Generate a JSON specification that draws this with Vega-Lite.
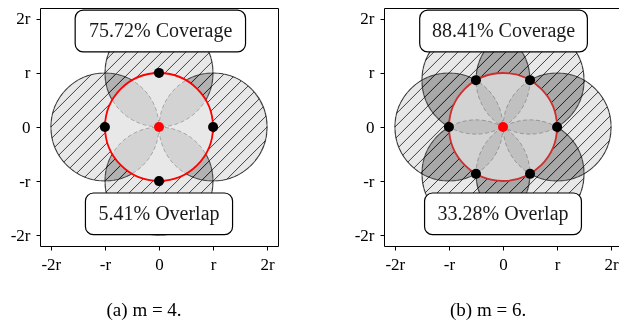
{
  "$schema": "https://vega.github.io/schema/vega-lite/v6.json",
  "background": "white",
  "padding": {"left": 9, "top": 7, "right": 0, "bottom": 0},
  "spacing": 74,
  "config": {
    "view": {"stroke": "black", "strokeWidth": 1},
    "axis": {"grid": false, "domain": false, "labelFont": "Liberation Serif", "labelFontSize": 17, "labelColor": "black", "tickColor": "black", "tickSize": 4, "tickWidth": 1, "labelPadding": 6, "labelFlush": false, "labelOverlap": false, "labelBound": false},
    "title": {"font": "Liberation Serif", "fontSize": 19, "fontWeight": "normal", "color": "black"}
  },
  "datasets": {
    "c4": [{"k": 0, "x": 1, "y": 0}, {"k": 1, "x": 0, "y": 1}, {"k": 2, "x": -1, "y": 0}, {"k": 3, "x": 0, "y": -1}],
    "c6": [{"k": 0, "x": 1, "y": 0}, {"k": 1, "x": 0.5, "y": 0.866}, {"k": 2, "x": -0.5, "y": 0.866}, {"k": 3, "x": -1, "y": 0}, {"k": 4, "x": -0.5, "y": -0.866}, {"k": 5, "x": 0.5, "y": -0.866}],
    "origin": [{"x": 0, "y": 0}],
    "box4": [{"x": -1.55, "x2": 1.6, "y": 1.39, "y2": 2.16}, {"x": -1.36, "x2": 1.36, "y": -1.99, "y2": -1.22}],
    "lab4": [{"label": "75.72% Coverage", "x": 0.03, "y": 1.78}, {"label": "5.41% Overlap", "x": 0, "y": -1.6}],
    "box6": [{"x": -1.54, "x2": 1.56, "y": 1.39, "y2": 2.16}, {"x": -1.45, "x2": 1.45, "y": -1.99, "y2": -1.22}],
    "lab6": [{"label": "88.41% Coverage", "x": 0.01, "y": 1.78}, {"label": "33.28% Overlap", "x": 0, "y": -1.6}]
  },
  "hconcat": [
    {
      "width": 238, "height": 238,
      "title": {"text": "(a) m = 4.", "orient": "bottom", "anchor": "middle", "frame": "bounds", "offset": 29},
      "encoding": {
        "x": {"field": "x", "type": "quantitative", "title": null, "scale": {"domain": [-2.2, 2.2], "nice": false, "zero": false}, "axis": {"values": [-2, -1, 0, 1, 2], "labelExpr": "datum.value == 0 ? '0' : datum.value == 1 ? 'r' : datum.value == -1 ? '-r' : datum.value == 2 ? '2r' : '-2r'"}},
        "y": {"field": "y", "type": "quantitative", "title": null, "scale": {"domain": [-2.2, 2.2], "nice": false, "zero": false}, "axis": {"values": [-2, -1, 0, 1, 2], "labelExpr": "datum.value == 0 ? '0' : datum.value == 1 ? 'r' : datum.value == -1 ? '-r' : datum.value == 2 ? '2r' : '-2r'"}}
      },
      "layer": [
        {"data": {"name": "c4"}, "mark": {"type": "point", "shape": "circle", "size": 11664, "filled": true, "color": "black", "opacity": 1, "strokeWidth": 0}},
        {"data": {"name": "c4"}, "mark": {"type": "point", "shape": "circle", "size": 11664, "filled": true, "color": "white", "opacity": 1, "strokeWidth": 0, "blend": "difference"}},
        {"data": {"name": "c4"}, "mark": {"type": "point", "shape": "circle", "size": 11664, "filled": true, "color": "#d8d8d8", "opacity": 1, "strokeWidth": 0, "blend": "lighten"}},
        {"data": {"name": "c4"}, "mark": {"type": "point", "shape": "M0.7605,-0.6494L-0.6494,0.7605M0.6494,-0.7605L-0.7605,0.6494M0.8539,-0.5205L-0.5205,0.8539M0.5205,-0.8539L-0.8539,0.5205M0.9281,-0.3725L-0.3725,0.9281M0.3725,-0.9281L-0.9281,0.3725M0.9795,-0.2017L-0.2017,0.9795M0.2017,-0.9795L-0.9795,0.2017M1,0L0,1M0,-1L-1,0M0.9668,0.2554L0.2554,0.9668M-0.2554,-0.9668L-0.9668,-0.2554", "size": 11664, "filled": false, "color": "#2a2a2a", "strokeWidth": 1, "opacity": 0.85}},
        {"data": {"name": "c4"}, "mark": {"type": "point", "shape": "circle", "size": 11664, "filled": false, "color": "black", "strokeWidth": 1.2, "opacity": 0.5}},
        {"data": {"name": "origin"}, "mark": {"type": "point", "shape": "circle", "size": 11664, "filled": true, "color": "white", "opacity": 1, "strokeWidth": 0}},
        {"data": {"name": "c4"}, "mark": {"type": "point", "shape": "circle", "size": 11664, "filled": true, "color": "black", "opacity": 1, "fillOpacity": 0.09, "stroke": "black", "strokeOpacity": 0.25, "strokeWidth": 1, "strokeDash": [4, 2.5]}},
        {"data": {"name": "origin"}, "mark": {"type": "point", "shape": "circle", "size": 11664, "filled": false, "color": "#ff0000", "opacity": 1, "strokeWidth": 1.8}},
        {"data": {"name": "c4"}, "mark": {"type": "point", "shape": "circle", "size": 100, "filled": true, "color": "black", "opacity": 1, "strokeWidth": 0}},
        {"data": {"name": "origin"}, "mark": {"type": "point", "shape": "circle", "size": 100, "filled": true, "color": "#ff0000", "opacity": 1, "strokeWidth": 0}},
        {"data": {"name": "box4"}, "mark": {"type": "rect", "fill": "white", "stroke": "black", "strokeWidth": 1.2, "cornerRadius": 8}, "encoding": {"x2": {"field": "x2"}, "y2": {"field": "y2"}}},
        {"data": {"name": "lab4"}, "mark": {"type": "text", "font": "Liberation Serif", "fontSize": 20, "color": "#1a1a1a", "align": "center", "baseline": "middle"}, "encoding": {"text": {"field": "label"}}}
      ]
    },
    {
      "width": 238, "height": 238,
      "title": {"text": "(b) m = 6.", "orient": "bottom", "anchor": "middle", "frame": "bounds", "offset": 29},
      "encoding": {
        "x": {"field": "x", "type": "quantitative", "title": null, "scale": {"domain": [-2.2, 2.2], "nice": false, "zero": false}, "axis": {"values": [-2, -1, 0, 1, 2], "labelExpr": "datum.value == 0 ? '0' : datum.value == 1 ? 'r' : datum.value == -1 ? '-r' : datum.value == 2 ? '2r' : '-2r'"}},
        "y": {"field": "y", "type": "quantitative", "title": null, "scale": {"domain": [-2.2, 2.2], "nice": false, "zero": false}, "axis": {"values": [-2, -1, 0, 1, 2], "labelExpr": "datum.value == 0 ? '0' : datum.value == 1 ? 'r' : datum.value == -1 ? '-r' : datum.value == 2 ? '2r' : '-2r'"}}
      },
      "layer": [
        {"data": {"name": "c6"}, "mark": {"type": "point", "shape": "circle", "size": 11664, "filled": true, "color": "black", "opacity": 1, "strokeWidth": 0}},
        {"data": {"name": "c6"}, "mark": {"type": "point", "shape": "circle", "size": 11664, "filled": true, "color": "white", "opacity": 1, "strokeWidth": 0, "blend": "difference"}},
        {"data": {"name": "c6"}, "mark": {"type": "point", "shape": "circle", "size": 11664, "filled": true, "color": "#cccccc", "opacity": 1, "strokeWidth": 0, "blend": "lighten"}},
        {"data": {"name": "c6"}, "mark": {"type": "point", "size": 11664, "filled": false, "color": "#2a2a2a", "strokeWidth": 1, "opacity": 0.85}, "encoding": {"shape": {"field": "k", "type": "nominal", "legend": null, "scale": {"domain": [0, 1, 2, 3, 4, 5], "range": [
          "M0.7605,-0.6494L-0.6494,0.7605M0.6494,-0.7605L-0.7605,0.6494M0.8539,-0.5205L-0.5205,0.8539M0.5205,-0.8539L-0.8539,0.5205M0.9281,-0.3725L-0.3725,0.9281M0.3725,-0.9281L-0.9281,0.3725M0.9795,-0.2017L-0.2017,0.9795M0.2017,-0.9795L-0.9795,0.2017M1,0L0,1M0,-1L-1,0M0.9668,0.2554L0.2554,0.9668M-0.2554,-0.9668L-0.9668,-0.2554",
          "M-0.2120,-0.9773L-0.9773,-0.2120M0.0324,-0.9995L-0.9995,0.0324M0.2286,-0.9735L-0.9735,0.2286M0.3957,-0.9184L-0.9184,0.3957M0.5407,-0.8412L-0.8412,0.5407M0.6669,-0.7452L-0.7452,0.6669M0.7754,-0.6315L-0.6315,0.7754M0.8661,-0.5L-0.5,0.8661M0.9372,-0.3489L-0.3489,0.9372M0.9847,-0.1742L-0.1742,0.9847M0.9995,0.0333L0.0333,0.9995M0.9535,0.3014L0.3014,0.9535",
          "M-0.3723,-0.9281L-0.9281,-0.3723M-0.0815,-0.9967L-0.9967,-0.0815M0.1349,-0.9909L-0.9909,0.1349M0.3152,-0.949L-0.949,0.3152M0.4707,-0.8823L-0.8823,0.4707M0.606,-0.7954L-0.7954,0.606M0.7233,-0.6905L-0.6905,0.7233M0.823,-0.568L-0.568,0.823M0.9042,-0.427L-0.427,0.9042M0.9643,-0.2649L-0.2649,0.9643M0.9971,-0.0755L-0.0755,0.9971M0.9878,0.1561L0.1561,0.9878M0.8661,0.4999L0.4999,0.8661",
          "M0.7605,-0.6494L-0.6494,0.7605M0.6494,-0.7605L-0.7605,0.6494M0.8539,-0.5205L-0.5205,0.8539M0.5205,-0.8539L-0.8539,0.5205M0.9281,-0.3725L-0.3725,0.9281M0.3725,-0.9281L-0.9281,0.3725M0.9795,-0.2017L-0.2017,0.9795M0.2017,-0.9795L-0.9795,0.2017M1,0L0,1M0,-1L-1,0M0.9668,0.2554L0.2554,0.9668M-0.2554,-0.9668L-0.9668,-0.2554",
          "M0.2120,0.9773L0.9773,0.2120M-0.0324,0.9995L0.9995,-0.0324M-0.2286,0.9735L0.9735,-0.2286M-0.3957,0.9184L0.9184,-0.3957M-0.5407,0.8412L0.8412,-0.5407M-0.6669,0.7452L0.7452,-0.6669M-0.7754,0.6315L0.6315,-0.7754M-0.8661,0.5L0.5,-0.8661M-0.9372,0.3489L0.3489,-0.9372M-0.9847,0.1742L0.1742,-0.9847M-0.9995,-0.0333L-0.0333,-0.9995M-0.9535,-0.3014L-0.3014,-0.9535",
          "M0.3723,0.9281L0.9281,0.3723M0.0815,0.9967L0.9967,0.0815M-0.1349,0.9909L0.9909,-0.1349M-0.3152,0.949L0.949,-0.3152M-0.4707,0.8823L0.8823,-0.4707M-0.606,0.7954L0.7954,-0.606M-0.7233,0.6905L0.6905,-0.7233M-0.823,0.568L0.568,-0.823M-0.9042,0.427L0.427,-0.9042M-0.9643,0.2649L0.2649,-0.9643M-0.9971,0.0755L0.0755,-0.9971M-0.9878,-0.1561L-0.1561,-0.9878M-0.8661,-0.4999L-0.4999,-0.8661"
        ]}}}},
        {"data": {"name": "c6"}, "mark": {"type": "point", "shape": "circle", "size": 11664, "filled": false, "color": "black", "strokeWidth": 1.2, "opacity": 0.5}},
        {"data": {"name": "origin"}, "mark": {"type": "point", "shape": "circle", "size": 11664, "filled": true, "color": "white", "opacity": 1, "strokeWidth": 0}},
        {"data": {"name": "c6"}, "mark": {"type": "point", "shape": "circle", "size": 11664, "filled": true, "color": "black", "opacity": 1, "fillOpacity": 0.09, "stroke": "black", "strokeOpacity": 0.25, "strokeWidth": 1, "strokeDash": [4, 2.5]}},
        {"data": {"name": "origin"}, "mark": {"type": "point", "shape": "circle", "size": 11664, "filled": false, "color": "#cc2f2f", "opacity": 1, "strokeWidth": 1.8}},
        {"data": {"name": "c6"}, "mark": {"type": "point", "shape": "circle", "size": 100, "filled": true, "color": "black", "opacity": 1, "strokeWidth": 0}},
        {"data": {"name": "origin"}, "mark": {"type": "point", "shape": "circle", "size": 100, "filled": true, "color": "#ff0000", "opacity": 1, "strokeWidth": 0}},
        {"data": {"name": "box6"}, "mark": {"type": "rect", "fill": "white", "stroke": "black", "strokeWidth": 1.2, "cornerRadius": 8}, "encoding": {"x2": {"field": "x2"}, "y2": {"field": "y2"}}},
        {"data": {"name": "lab6"}, "mark": {"type": "text", "font": "Liberation Serif", "fontSize": 20, "color": "#1a1a1a", "align": "center", "baseline": "middle"}, "encoding": {"text": {"field": "label"}}}
      ]
    }
  ]
}
